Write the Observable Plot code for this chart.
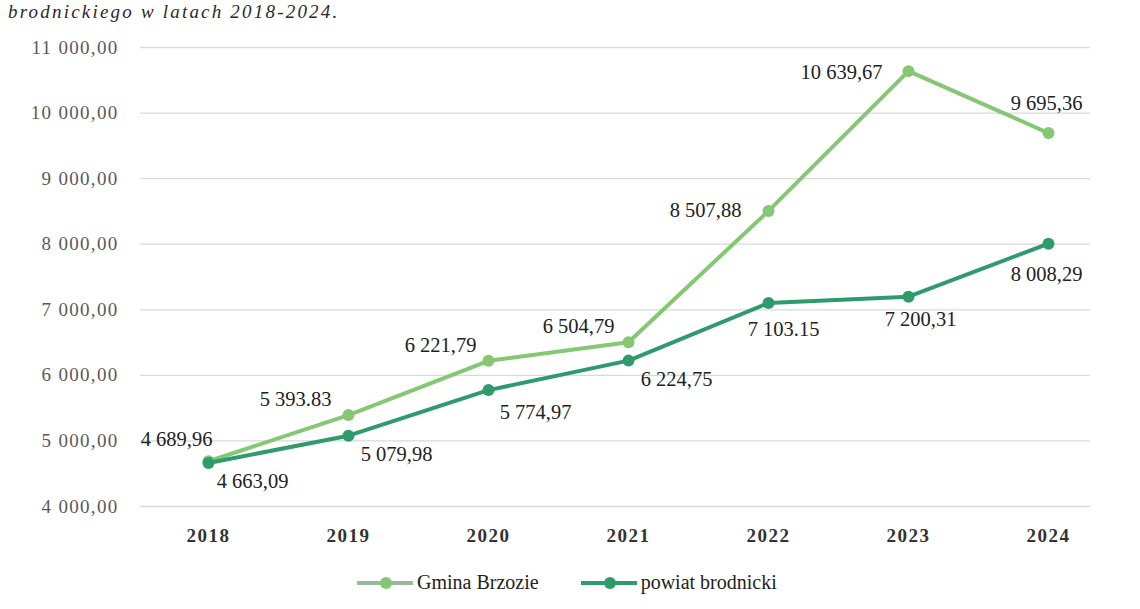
<!DOCTYPE html>
<html>
<head>
<meta charset="utf-8">
<script src="https://cdn.jsdelivr.net/npm/d3@7"></script>
<script src="https://cdn.jsdelivr.net/npm/@observablehq/plot@0.6"></script>
<style>
  body { margin: 0; background: #fff; width: 1140px; height: 609px; overflow: hidden; position: relative; font-family: "Times New Roman", "Liberation Serif", Tinos, Times, "DejaVu Serif", "Noto Serif", serif; }
  #title { position: absolute; top: 1px; left: 8px; font-style: italic; font-size: 19px; letter-spacing: 2.2px; color: #2a2a2a; white-space: nowrap; line-height: 22px; }
  #chart { position: absolute; top: 0; left: 0; }
  #chart svg, #chart svg text { font-family: "Times New Roman", "Liberation Serif", Tinos, Times, "DejaVu Serif", "Noto Serif", serif !important; }
  #chart .yt text { letter-spacing: 1.3px; }
  #chart .xt text { letter-spacing: 1.5px; font-weight: 600; }
  #legend { position: absolute; top: 571px; left: 357px; display: flex; align-items: center; font-size: 20px; color: #222; }
  .item { display: flex; align-items: center; }
  .item svg { margin-right: 4px; }
</style>
</head>
<body>
<div id="title">brodnickiego w latach 2018-2024.</div>
<div id="chart"></div>
<div id="legend"></div>
<script>
const years = [2018, 2019, 2020, 2021, 2022, 2023, 2024];
const gminaValues = [4689.96, 5393.83, 6221.79, 6504.79, 8507.88, 10639.67, 9695.36];
const powiatValues = [4663.09, 5079.98, 5774.97, 6224.75, 7103.15, 7200.31, 8008.29];
const gminaLabels = ["4 689,96", "5 393.83", "6 221,79", "6 504,79", "8 507,88", "10 639,67", "9 695,36"];
const powiatLabels = ["4 663,09", "5 079,98", "5 774,97", "6 224,75", "7 103.15", "7 200,31", "8 008,29"];
const seriesNames = ["Gmina Brzozie", "powiat brodnicki"];
const yTicks = [4000, 5000, 6000, 7000, 8000, 9000, 10000, 11000];
const yTickLabels = ["4 000,00", "5 000,00", "6 000,00", "7 000,00", "8 000,00", "9 000,00", "10 000,00", "11 000,00"];

const colors = ["#84c873", "#2f9b6d"];
const legendLineColors = ["#9ab89a", "#2f9b6d"];

const gmina = years.map((y, i) => ({year: String(y), value: gminaValues[i], label: gminaLabels[i], series: seriesNames[0]}));
const powiat = years.map((y, i) => ({year: String(y), value: powiatValues[i], label: powiatLabels[i], series: seriesNames[1]}));

// label offsets (layout only)
const gOff = [[-32,-22],[-53,-16],[-48,-15],[-50,-16],[-63,0],[-67,1],[-2,-30]];
const pOff = [[44,18],[48,19],[47,22],[48,19],[15,26],[12,23],[-2,31]];

const serif = "'Times New Roman', 'Liberation Serif', Tinos, Times, 'DejaVu Serif', 'Noto Serif', serif";

const labelMarks = [];
gmina.forEach((d, i) => labelMarks.push(Plot.text([d], {x: "year", y: "value", text: "label", dx: gOff[i][0], dy: gOff[i][1], fontSize: 20.5, fill: "#222", fontFamily: serif})));
powiat.forEach((d, i) => labelMarks.push(Plot.text([d], {x: "year", y: "value", text: "label", dx: pOff[i][0], dy: pOff[i][1], fontSize: 20.5, fill: "#222", fontFamily: serif})));

const chart = Plot.plot({
  width: 1140,
  height: 560,
  marginLeft: 140,
  marginRight: 50,
  marginTop: 47,
  marginBottom: 54,
  style: {background: "transparent", fontFamily: serif},
  x: {type: "point", domain: years.map(String), padding: 0, insetLeft: 66, insetRight: 40, label: null},
  y: {domain: [4000, 11000], label: null},
  marks: [
    Plot.ruleY(yTicks, {stroke: "#dadada", strokeWidth: 1.3}),
    Plot.axisY({ticks: yTicks, tickFormat: (d) => yTickLabels[yTicks.indexOf(d)], tickSize: 0, tickPadding: 22, fontSize: 19, fill: "#5a5a5a", label: null, className: "yt", fontFamily: serif}),
    Plot.axisX({tickSize: 0, tickPadding: 22, fontSize: 19, fill: "#333", label: null, className: "xt", fontFamily: serif}),
    Plot.line(gmina, {x: "year", y: "value", stroke: colors[0], strokeWidth: 4}),
    Plot.dot(gmina, {x: "year", y: "value", fill: colors[0], r: 6}),
    Plot.line(powiat, {x: "year", y: "value", stroke: colors[1], strokeWidth: 4}),
    Plot.dot(powiat, {x: "year", y: "value", fill: colors[1], r: 6}),
    ...labelMarks
  ]
});
document.getElementById("chart").appendChild(chart);

const legend = document.getElementById("legend");
seriesNames.forEach((name, i) => {
  const item = document.createElement("div");
  item.className = "item";
  if (i > 0) item.style.marginLeft = "42px";
  item.innerHTML = `<svg width="56" height="14"><line x1="0" y1="7" x2="56" y2="7" stroke="${legendLineColors[i]}" stroke-width="4"/><circle cx="29" cy="7" r="6" fill="${colors[i]}"/></svg><span>${name}</span>`;
  legend.appendChild(item);
});
</script>
</body>
</html>
